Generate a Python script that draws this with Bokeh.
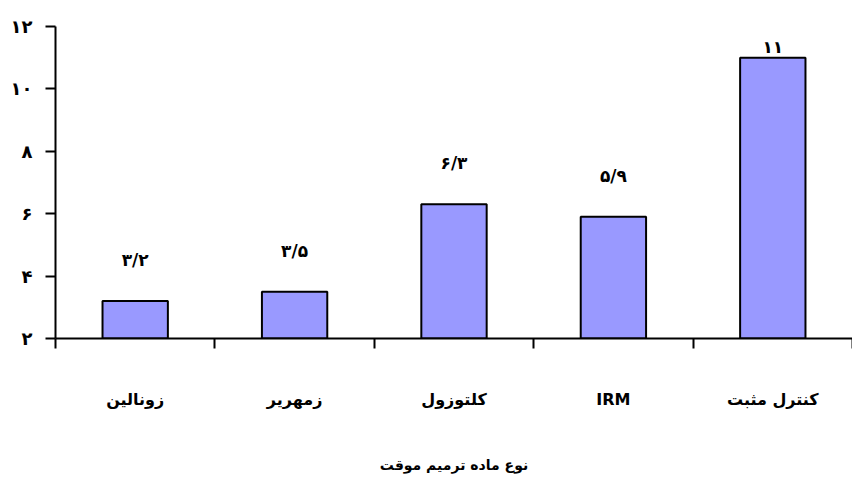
from bokeh.plotting import figure
from bokeh.models import Range1d, FixedTicker, ColumnDataSource
from bokeh.core.properties import value
from bokeh.embed import file_html
from bokeh.resources import INLINE

categories = ["زونالین", "زمهریر", "کلتوزول", "IRM", "کنترل مثبت"]
values = [3.2, 3.5, 6.3, 5.9, 11]
value_labels = ["۳/۲", "۳/۵", "۶/۳", "۵/۹", "۱۱"]
y_ticks = [2, 4, 6, 8, 10, 12]
y_tick_labels = ["۲", "۴", "۶", "۸", "۱۰", "۱۲"]
x_title = "نوع ماده ترمیم موقت"

FONT = "DejaVu Sans"

p = figure(width=852, height=480, output_backend="svg", toolbar_location=None,
           x_range=Range1d(0, len(categories)), y_range=Range1d(2, 12),
           min_border_left=55, min_border_right=0, min_border_top=26, min_border_bottom=142)
p.outline_line_color = None
p.xgrid.grid_line_color = None
p.ygrid.grid_line_color = None
p.background_fill_color = "white"

centers = [i + 0.5 for i in range(len(categories))]
label_y = [min(v + 1.32, 11.35) for v in values]
src = ColumnDataSource(dict(x=centers, top=values, ly=label_y, lab=value_labels))

p.vbar(x="x", top="top", bottom=2, width=0.41, source=src,
       fill_color="#9999FF", line_color="black", line_width=2)
p.text(x="x", y="ly", text="lab", source=src, text_align="center", text_baseline="middle",
       text_font=value(FONT), text_font_size="17px", text_font_style="bold", text_color="black")

# x axis
xa = p.xaxis[0]
xa.ticker = FixedTicker(ticks=centers, minor_ticks=list(range(len(categories) + 1)))
xa.major_label_overrides = {c: n for c, n in zip(centers, categories)}
xa.major_tick_out = 0
xa.major_tick_in = 0
xa.minor_tick_out = 10
xa.minor_tick_in = 0
xa.minor_tick_line_color = "black"
xa.minor_tick_line_width = 2
xa.axis_line_width = 2
xa.axis_line_color = "black"
xa.major_label_standoff = 41
xa.major_label_text_font = FONT
xa.major_label_text_font_size = "16px"
xa.major_label_text_font_style = "bold"
xa.major_label_text_color = "black"
xa.axis_label = x_title
xa.axis_label_text_font = FONT
xa.axis_label_text_font_size = "14px"
xa.axis_label_text_font_style = "bold"
xa.axis_label_text_color = "black"
xa.axis_label_standoff = 45

# y axis
ya = p.yaxis[0]
ya.ticker = FixedTicker(ticks=y_ticks, minor_ticks=[])
ya.major_label_overrides = {t: l for t, l in zip(y_ticks, y_tick_labels)}
ya.major_tick_out = 10
ya.major_tick_in = 0
ya.major_tick_line_width = 2
ya.major_tick_line_color = "black"
ya.minor_tick_line_color = None
ya.axis_line_width = 2
ya.axis_line_color = "black"
ya.major_label_standoff = 13
ya.major_label_text_font = FONT
ya.major_label_text_font_size = "18px"
ya.major_label_text_font_style = "bold"
ya.major_label_text_color = "black"

open("out.html", "w").write(file_html(p, INLINE))
